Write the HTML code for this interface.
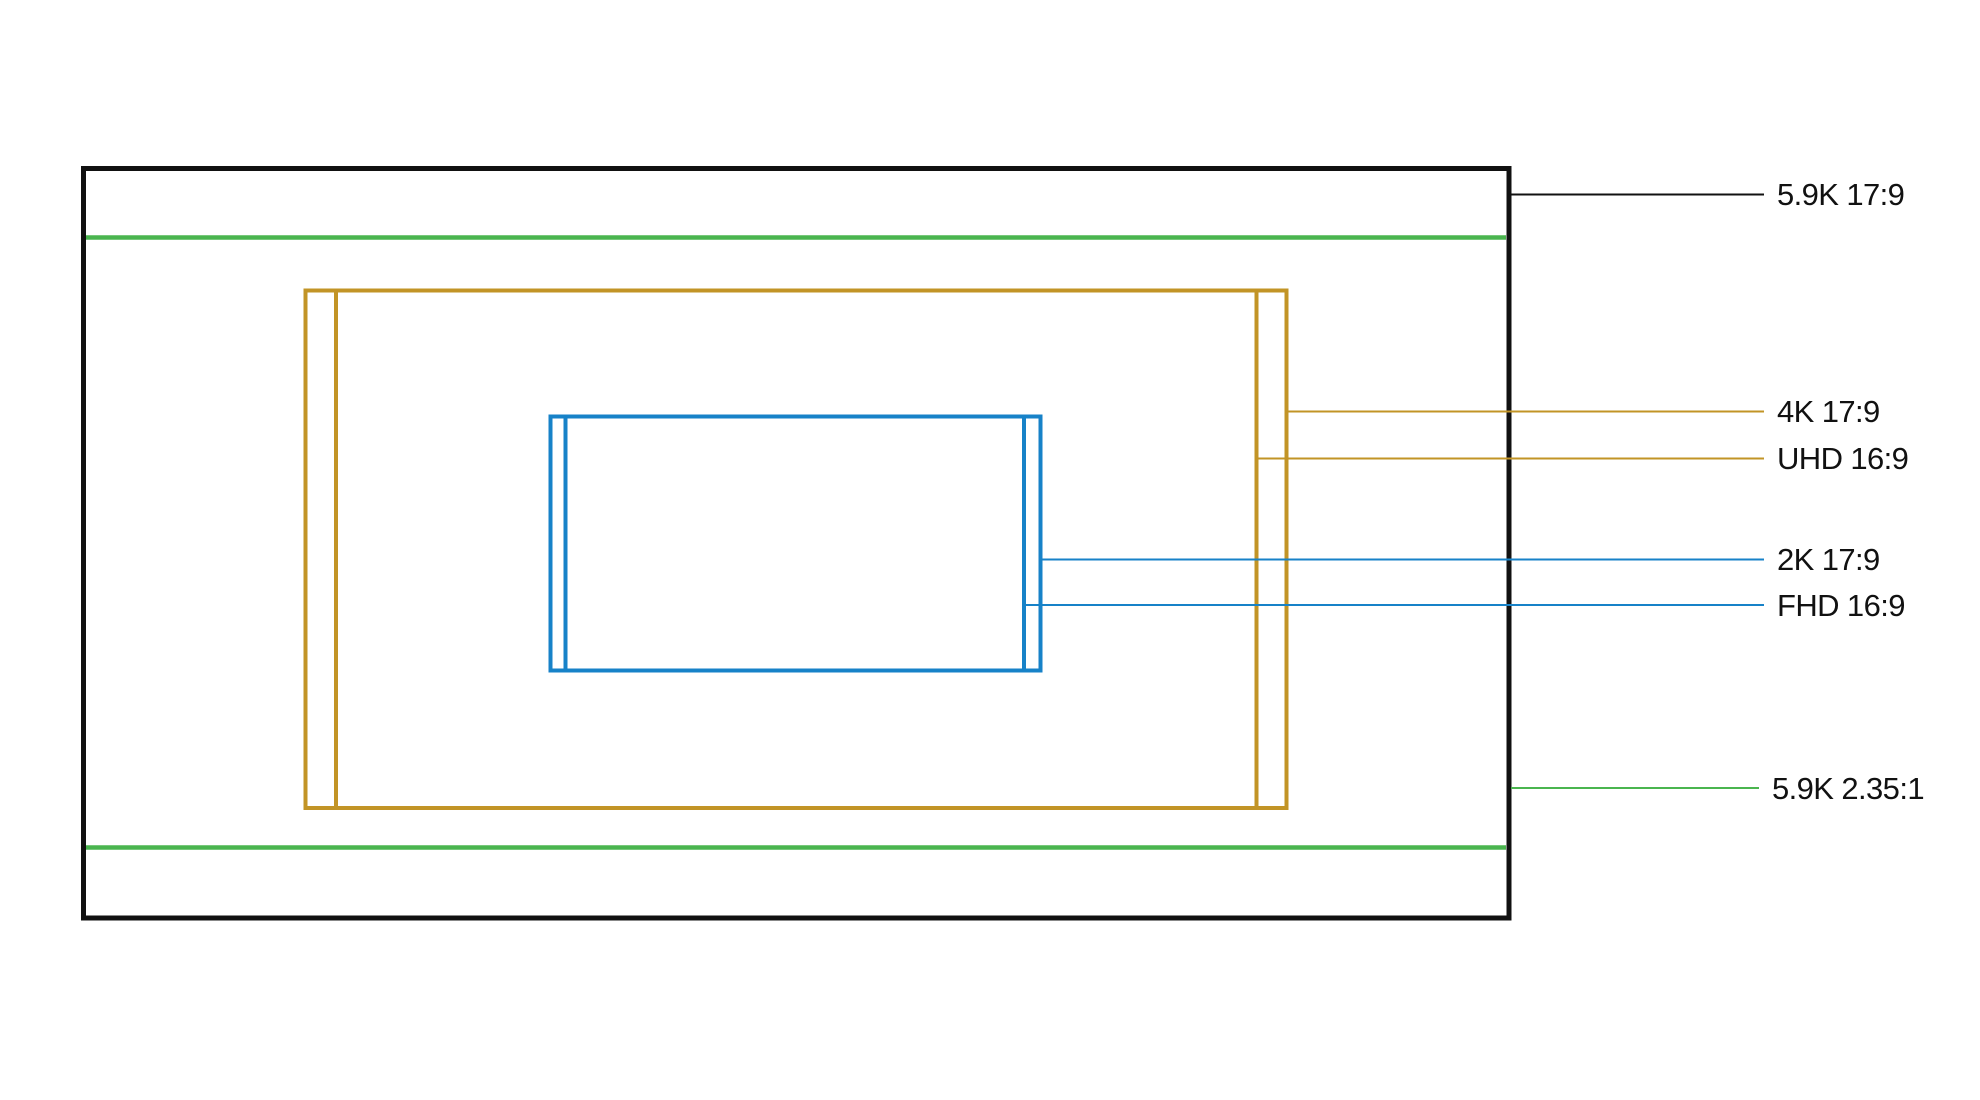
<!DOCTYPE html>
<html><head><meta charset="utf-8"><style>
html,body{margin:0;padding:0;background:#fff;width:1980px;height:1100px;overflow:hidden}
text{font-family:"Liberation Sans",sans-serif;font-size:31px;fill:#111;letter-spacing:-0.6px}
</style></head><body>
<svg width="1980" height="1100" viewBox="0 0 1980 1100" xmlns="http://www.w3.org/2000/svg">
<rect x="83.5" y="168.5" width="1425.5" height="749.5" fill="none" stroke="#111" stroke-width="5"/>
<line x1="86" y1="237.5" x2="1506" y2="237.5" stroke="#4ab54f" stroke-width="4.5"/>
<line x1="86" y1="847.5" x2="1506" y2="847.5" stroke="#4ab54f" stroke-width="4.5"/>
<rect x="305.5" y="290.5" width="981" height="517.5" fill="none" stroke="#c29426" stroke-width="4"/>
<line x1="336" y1="290.5" x2="336" y2="808" stroke="#c29426" stroke-width="4"/>
<line x1="1256.5" y1="290.5" x2="1256.5" y2="808" stroke="#c29426" stroke-width="4"/>
<rect x="550.5" y="416.5" width="490" height="254" fill="none" stroke="#1782c8" stroke-width="4"/>
<line x1="565.5" y1="416.5" x2="565.5" y2="670.5" stroke="#1782c8" stroke-width="4"/>
<line x1="1024" y1="416.5" x2="1024" y2="670.5" stroke="#1782c8" stroke-width="4"/>
<line x1="1511" y1="194.5" x2="1764" y2="194.5" stroke="#111" stroke-width="2"/>
<line x1="1287" y1="411.5" x2="1764" y2="411.5" stroke="#c29426" stroke-width="2"/>
<line x1="1257" y1="458.5" x2="1764" y2="458.5" stroke="#c29426" stroke-width="2"/>
<line x1="1041" y1="559.5" x2="1764" y2="559.5" stroke="#1782c8" stroke-width="2"/>
<line x1="1024" y1="605" x2="1764" y2="605" stroke="#1782c8" stroke-width="2"/>
<line x1="1511" y1="788" x2="1759" y2="788" stroke="#4ab54f" stroke-width="2"/>
<text x="1777" y="205">5.9K 17:9</text>
<text x="1777" y="422">4K 17:9</text>
<text x="1777" y="469">UHD 16:9</text>
<text x="1777" y="570">2K 17:9</text>
<text x="1777" y="616">FHD 16:9</text>
<text x="1772" y="799">5.9K 2.35:1</text>
</svg>
</body></html>
